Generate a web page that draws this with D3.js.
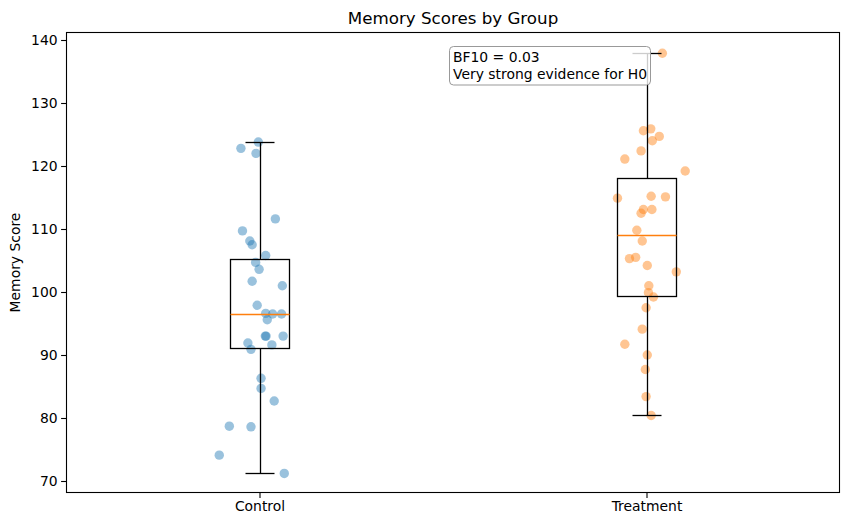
<!DOCTYPE html>
<html><head><meta charset="utf-8">
<script src="https://cdn.jsdelivr.net/npm/d3@7"></script>
<style>body{margin:0;background:#fff}svg{display:block;font-family:"DejaVu Sans",sans-serif}</style>
</head><body><svg id="c" width="850" height="528"></svg>
<script>
const groups = ["Control", "Treatment"];
const yTicks = [70, 80, 90, 100, 110, 120, 130, 140];
const controlX = [0.997,0.952,0.991,1.041,0.956,0.975,0.981,1.016,0.990,0.999,0.981,1.059,0.994,1.016,1.034,1.057,1.020,1.015,1.017,1.061,0.970,1.032,0.978,1.004,1.004,1.038,0.922,0.978,0.896,1.064];
const controlY = [123.8,122.8,122.0,111.6,109.7,108.1,107.5,105.8,104.7,103.6,101.7,101.0,97.9,96.6,96.5,96.5,95.6,93.0,93.0,93.0,91.9,91.6,90.9,86.3,84.7,82.7,78.7,78.6,74.1,71.2];
const treatX = [2.041,1.992,2.011,2.033,2.015,1.986,1.944,2.100,1.925,2.012,2.049,2.014,1.992,1.986,1.975,1.989,1.956,1.972,2.002,2.077,2.006,2.005,2.018,1.999,1.989,1.944,2.002,1.997,1.999,2.012];
const treatY = [137.9,125.6,125.9,124.7,124.0,122.4,121.1,119.2,114.9,115.2,115.1,113.1,113.1,112.5,109.8,108.1,105.3,105.5,104.2,103.2,101.0,99.9,99.2,97.5,94.1,91.7,90.0,87.7,83.4,80.4];
const q1 = [91.1, 99.4];
const medians = [96.5, 109.0];
const q3 = [105.3, 118.1];
const whiskerLo = [71.2, 80.4];
const whiskerHi = [123.8, 137.9];
const annotation = ["BF10 = 0.03", "Very strong evidence for H0"];

const L = 66, R = 840, T = 32, B = 493;
const svg = d3.select("#c");
const x = d3.scaleLinear().domain([0.5, 2.5]).range([L, R]);
const y = d3.scaleLinear().domain([68.095, 141.27]).range([B, T]);
const px = v => Math.round(v) + 0.5;
const colors = ["#1f77b4", "#ff7f0e"];

// points
const pts = [controlX.map((v,i)=>({x:v,y:controlY[i],g:0})), treatX.map((v,i)=>({x:v,y:treatY[i],g:1}))].flat();
svg.append("g").selectAll("circle").data(pts).join("circle")
  .attr("cx", d=>x(d.x)).attr("cy", d=>y(d.y)).attr("r", 4.7)
  .attr("fill", d=>colors[d.g]).attr("fill-opacity", 0.45);

// boxes
const bg = svg.append("g").attr("stroke","#000").attr("stroke-width",1.3).attr("fill","none");
groups.forEach((g,i)=>{
  const p = i + 1;
  const cx = px(x(p));
  const l = px(x(p-0.075)), r = px(x(p+0.075));
  const cl = px(x(p-0.0375)), cr = px(x(p+0.0375));
  bg.append("rect").attr("x", l).attr("y", px(y(q3[i]))).attr("width", r-l).attr("height", px(y(q1[i]))-px(y(q3[i])));
  bg.append("line").attr("x1",cx).attr("x2",cx).attr("y1",px(y(q3[i]))).attr("y2",px(y(whiskerHi[i])));
  bg.append("line").attr("x1",cx).attr("x2",cx).attr("y1",px(y(q1[i]))).attr("y2",px(y(whiskerLo[i])));
  bg.append("line").attr("x1",cl).attr("x2",cr).attr("y1",px(y(whiskerHi[i]))).attr("y2",px(y(whiskerHi[i])));
  bg.append("line").attr("x1",cl).attr("x2",cr).attr("y1",px(y(whiskerLo[i]))).attr("y2",px(y(whiskerLo[i])));
  bg.append("line").attr("x1",l).attr("x2",r).attr("y1",px(y(medians[i]))).attr("y2",px(y(medians[i]))).attr("stroke","#ff7f0e");
});

// axes
const yAxis = svg.append("g").attr("transform",`translate(${L},0)`)
  .call(d3.axisLeft(y).tickValues(yTicks).tickSize(4.9).tickPadding(3.5));
const xAxis = svg.append("g").attr("transform",`translate(0,${B})`)
  .call(d3.axisBottom(x).tickValues([1,2]).tickFormat((d,i)=>groups[i]).tickSize(4.9).tickPadding(3.5));
[yAxis,xAxis].forEach(a=>{
  a.select(".domain").remove();
  a.selectAll("text").attr("font-size","13.9px").attr("fill","#000").attr("font-family","DejaVu Sans");
  a.selectAll("line").attr("stroke","#000").attr("stroke-width",1.1);
});
svg.append("rect").attr("x",L+0.5).attr("y",T+0.5).attr("width",R-L-1).attr("height",B-T-1)
  .attr("fill","none").attr("stroke","#000").attr("stroke-width",1.1);

svg.append("text").attr("x",(L+R)/2).attr("y",24).attr("text-anchor","middle")
  .attr("font-size","16.7px").text("Memory Scores by Group");
svg.append("text").attr("transform",`translate(20,${(T+B)/2}) rotate(-90)`).attr("text-anchor","middle")
  .attr("font-size","13.9px").text("Memory Score");

// annotation
const ax = x(1.5);
svg.append("rect").attr("x", 449.5).attr("y", 46.5).attr("width", 201).attr("height", 38.5)
  .attr("rx",4).attr("fill","#fff").attr("fill-opacity",0.8).attr("stroke","#999").attr("stroke-width",1);
const at = svg.append("text").attr("font-size","13.9px");
annotation.forEach((t,i)=>at.append("tspan").attr("x",ax).attr("y",62+i*16.6).text(t));
</script></body></html>
